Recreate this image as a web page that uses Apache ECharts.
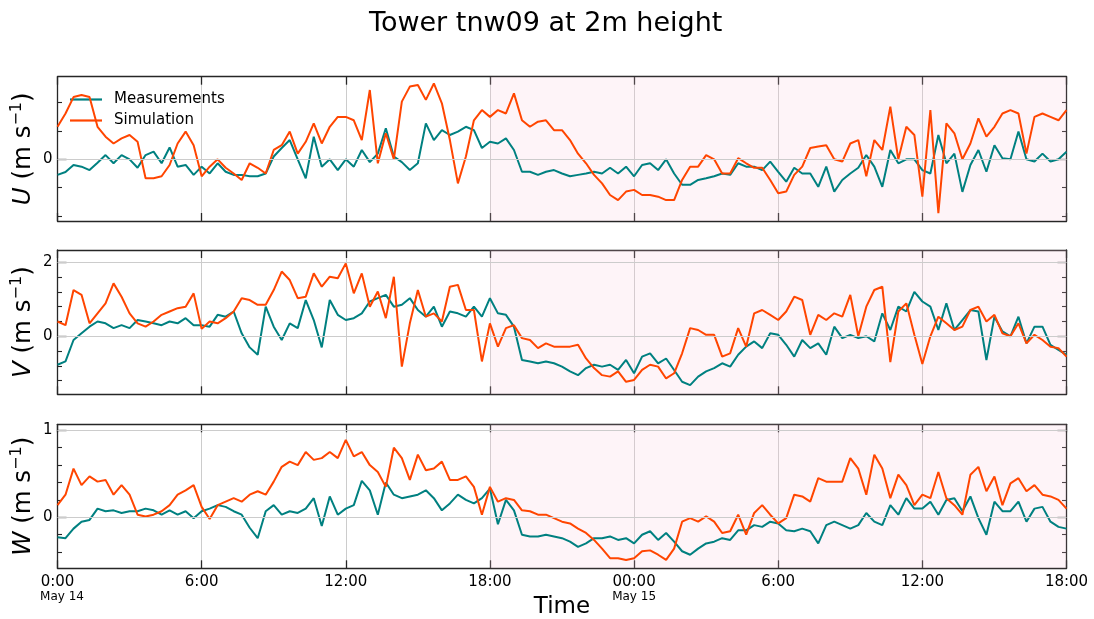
<!DOCTYPE html>
<html><head><meta charset="utf-8">
<script src="https://cdn.jsdelivr.net/npm/echarts@6/dist/echarts.min.js"></script>
<style>html,body{margin:0;padding:0;background:#fff}#c{width:1094px;height:619px}</style>
</head><body><div id="c"></div>
<script>
// sampling step of the series (hours); x runs from 0:00 May 14 to 18:00 May 15
const STEP_HOURS = 1 / 3;
const xTickHours = [0, 6, 12, 18, 24, 30, 36, 42];
const dayLabels = { 0: 'May 14', 24: 'May 15' };
const titleText = 'Tower tnw09 at 2m height';
const seriesNames = ['Measurements', 'Simulation'];
const shadeFrom = 18, shadeTo = 42;

const U_meas = [-0.55,-0.45,-0.2,-0.26,-0.38,-0.12,0.15,-0.14,0.15,0,-0.3,0.15,0.27,-0.14,0.42,-0.26,-0.2,-0.55,-0.26,-0.5,-0.14,-0.44,-0.55,-0.55,-0.6,-0.6,-0.5,0.1,0.4,0.68,0,-0.67,0.8,-0.26,0,-0.38,
 0,-0.26,0.33,-0.1,0.2,1.1,0.1,-0.1,-0.38,-0.14,1.27,0.68,1.03,0.86,0.98,1.15,1.03,0.4,0.62,0.56,0.74,0.33,-0.44,-0.44,-0.55,-0.44,-0.38,-0.5,-0.6,-0.55,-0.5,-0.44,-0.5,-0.3,-0.5,-0.26,-0.6,-0.2,-0.14,-0.38,0,-0.5,-0.9,-0.9,-0.73,
 -0.67,-0.6,-0.5,-0.55,-0.14,-0.26,-0.26,-0.38,-0.08,-0.44,-0.79,-0.3,-0.5,-0.5,-0.97,-0.26,-1.14,-0.73,-0.5,-0.3,0.15,-0.26,-0.97,0.33,-0.14,0,0,-0.38,-0.5,0.86,-0.14,0.2,-1.15,-0.2,0.33,-0.44,0.5,0.04,0,0.98,0,-0.08,0.2,-0.08,0,0.27];
const U_sim = [1.15,1.62,2.2,2.27,2.2,1.15,0.8,0.56,0.74,0.86,0.62,-0.67,-0.67,-0.6,-0.2,0.56,0.98,0.5,-0.6,-0.26,0,-0.3,-0.5,-0.73,-0.14,-0.3,-0.5,0.33,0.5,0.98,0.2,0.62,1.27,0.56,1.15,1.5,
 1.5,1.38,0.68,2.45,-0.14,0.92,0,2.04,2.57,2.63,2.1,2.68,1.98,0.68,-0.85,0.1,1.38,1.74,1.5,1.74,1.62,2.33,1.38,1.15,1.33,1.38,1.03,1.03,0.68,0.2,-0.14,-0.55,-0.85,-1.26,-1.44,-1.14,-1.08,-1.26,-1.26,-1.32,-1.44,-1.44,-0.73,-0.26,-0.26,
 0.15,0,-0.5,-0.5,0.04,-0.14,-0.3,-0.3,-0.73,-1.2,-1.14,-0.55,-0.26,0.4,0.45,0.5,0,-0.08,0.56,0.68,-0.6,0.68,0.33,1.86,0,1.15,0.86,-1.32,1.74,-1.9,1.27,0.92,0,0.56,1.45,0.8,1.15,1.62,1.74,1.62,0.2,1.5,1.62,1.5,1.38,1.74];
const V_meas = [-0.77,-0.68,-0.1,0.08,0.26,0.4,0.35,0.22,0.3,0.22,0.44,0.4,0.35,0.3,0.4,0.35,0.49,0.3,0.3,0.26,0.58,0.53,0.67,0.08,-0.3,-0.5,0.8,0.26,-0.1,0.35,0.22,0.98,0.44,-0.3,0.98,0.58,
 0.44,0.49,0.62,0.94,1.03,1.12,0.8,0.85,1.03,0.71,0.53,0.8,0.26,0.67,0.62,0.53,0.8,0.53,1.03,0.62,0.58,0.26,-0.64,-0.68,-0.73,-0.68,-0.73,-0.82,-0.95,-1.05,-0.86,-0.77,-0.82,-0.77,-0.91,-0.64,-1.0,-0.55,-0.46,-0.73,-0.6,-0.91,-1.23,-1.32,-1.09,
 -0.95,-0.86,-0.73,-0.82,-0.5,-0.28,-0.14,-0.32,0.08,0.04,-0.23,-0.55,-0.1,-0.32,-0.19,-0.5,0.26,-0.05,0.04,-0.05,0,-0.14,0.62,0.17,0.8,0.67,1.2,0.94,0.8,0.17,0.89,0.17,0.44,0.71,0.67,-0.64,0.53,0.13,0,0.53,-0.19,0.26,0.26,-0.23,-0.37,-0.5];
const V_sim = [0.4,0.3,1.25,1.12,0.35,0.62,0.89,1.43,1.07,0.62,0.35,0.26,0.4,0.58,0.67,0.76,0.8,1.16,0.2,0.4,0.35,0.49,0.67,1.03,0.98,0.85,0.85,1.25,1.75,1.52,1.03,1.07,1.7,1.34,1.61,1.57,
 1.97,1.16,1.7,0.8,1.21,0.49,1.61,-0.82,0.35,1.25,0.53,0.62,0.4,1.34,1.39,0.71,0.71,-0.68,0.35,-0.28,0.22,0.3,-0.05,-0.1,-0.32,-0.19,-0.28,-0.28,-0.28,-0.23,-0.6,-0.86,-1.05,-1.09,-0.95,-1.23,-1.18,-0.91,-0.77,-0.82,-1.14,-1.0,-0.46,0.22,0.17,
 0.04,0.04,-0.55,-0.46,0.22,-0.28,0.62,0.71,0.58,0.44,0.67,1.07,0.98,0.04,0.58,0.44,0.62,0.53,1.12,0,0.8,1.25,1.34,-0.7,0.67,0.89,0.04,-0.75,0,0.53,0.35,0.17,0.26,0.71,0.8,0.4,0.58,0.08,0,0.35,-0.19,0.04,-0.1,-0.28,-0.32,-0.55];
const W_meas = [-0.23,-0.24,-0.13,-0.05,-0.03,0.1,0.07,0.08,0.05,0.07,0.07,0.1,0.08,0.03,0.08,0.03,0.07,-0.01,0.07,0.1,0.14,0.12,0.07,0.03,-0.12,-0.24,0.07,0.14,0.03,0.07,0.05,0.1,0.22,-0.1,0.24,0.03,
 0.1,0.14,0.42,0.31,0.03,0.4,0.26,0.22,0.24,0.26,0.31,0.22,0.08,0.16,0.26,0.2,0.16,0.22,0.33,-0.08,0.2,0.08,-0.2,-0.22,-0.22,-0.2,-0.22,-0.24,-0.28,-0.34,-0.3,-0.24,-0.24,-0.22,-0.26,-0.24,-0.3,-0.2,-0.16,-0.26,-0.18,-0.28,-0.39,-0.43,-0.36,
 -0.3,-0.28,-0.24,-0.26,-0.15,-0.15,-0.09,-0.11,-0.05,-0.07,-0.15,-0.16,-0.13,-0.16,-0.3,-0.09,-0.05,-0.09,-0.13,-0.09,0.05,-0.05,-0.09,0.14,0.03,0.22,0.1,0.1,0.18,0.03,0.2,0.22,0.07,0.24,-0.01,-0.2,0.18,0.07,0.07,0.18,-0.05,0.1,0.12,-0.05,-0.11,-0.13];
const W_sim = [0.14,0.26,0.56,0.37,0.47,0.41,0.43,0.26,0.37,0.26,0.03,0.01,0.03,0.07,0.14,0.26,0.31,0.37,0.12,-0.02,0.14,0.18,0.22,0.18,0.26,0.3,0.26,0.41,0.58,0.64,0.6,0.75,0.66,0.68,0.75,0.68,
 0.89,0.7,0.75,0.6,0.52,0.35,0.8,0.68,0.43,0.72,0.54,0.56,0.64,0.43,0.43,0.47,0.35,0.03,0.35,0.18,0.22,0.2,0.08,0.07,0.03,0.03,-0.01,-0.05,-0.07,-0.13,-0.18,-0.26,-0.36,-0.47,-0.47,-0.49,-0.47,-0.39,-0.38,-0.43,-0.49,-0.36,-0.05,-0.01,-0.05,
 0.01,-0.05,-0.18,-0.16,0.03,-0.2,0.05,0.14,0.03,-0.07,-0.01,0.26,0.24,0.18,0.45,0.41,0.41,0.41,0.68,0.56,0.26,0.72,0.56,0.22,0.49,0.37,0.14,0.26,0.22,0.52,0.22,0.14,0.03,0.49,0.58,0.3,0.47,0.14,0.39,0.45,0.3,0.37,0.26,0.24,0.2,0.1];

// panel definitions: axis extents and tick values
const panels = [
  { name: 'U', meas: U_meas, sim: U_sim, min: -2.18, max: 2.92, major: [0], minor: [-2, -1, 1, 2] },
  { name: 'V', meas: V_meas, sim: V_sim, min: -1.568, max: 2.332, major: [0, 2], minor: [-1.2, -0.8, -0.4, 0.4, 0.8, 1.2, 1.6] },
  { name: 'W', meas: W_meas, sim: W_sim, min: -0.586, max: 1.069, major: [0, 1], minor: [-0.4, -0.2, 0.2, 0.4, 0.6, 0.8] }
];

const FONT = 'DejaVu Sans';
const FRAME = '#262626';
const GRIDC = '#cccccc';
const TEAL = '#008080', ORANGE = '#ff4500';
const gridBoxes = [
  { top: 76.7, height: 144.3 },
  { top: 250, height: 144.3 },
  { top: 424.3, height: 144 }
];

function fmtX(v) {
  const h = v % 24;
  let s = v === 0 ? '0:00' : (h === 0 ? '00:00' : h + ':00');
  if (dayLabels[v] !== undefined) s += '\n{' + (v === 0 ? 'd0' : 'd1') + '|' + dayLabels[v] + '}';
  return s;
}

const grid = [], xAxis = [], yAxis = [], series = [];
panels.forEach((p, g) => {
  grid.push({ left: 57.5, width: 1009, top: gridBoxes[g].top, height: gridBoxes[g].height,
    containLabel: false, outerBoundsMode: 'none' });
  const isLast = g === panels.length - 1;
  ['bottom', 'top'].forEach((pos, k) => {
    xAxis.push({
      gridIndex: g, type: 'value', min: 0, max: 42, interval: 6, position: pos,
      axisLine: { show: true, onZero: false, lineStyle: { color: FRAME, width: 1.3 } },
      axisTick: { show: true, inside: true, length: 8, lineStyle: { color: FRAME, width: 1.3 } },
      axisLabel: {
        show: isLast && k === 0, formatter: fmtX, fontFamily: FONT, fontSize: 15, color: '#000', margin: 6, lineHeight: 16,
        rich: { d0: { fontSize: 12, fontFamily: FONT, color: '#000', lineHeight: 14, padding: [0, 0, 0, 9] },
                d1: { fontSize: 12, fontFamily: FONT, color: '#000', lineHeight: 14 } }
      },
      splitLine: { show: k === 0, lineStyle: { color: GRIDC, width: 1 } },
      name: (isLast && k === 0) ? 'Time' : '', nameLocation: 'middle', nameGap: 27, nameMoveOverlap: false,
      nameTextStyle: { fontFamily: FONT, fontSize: 23, color: '#000' }
    });
  });
  const yBase = {
    gridIndex: g, type: 'value', min: p.min, max: p.max,
    splitLine: { show: false }
  };
  // left major (with labels and name)
  yAxis.push(Object.assign({}, yBase, {
    position: 'left',
    axisLine: { show: true, onZero: false, lineStyle: { color: FRAME, width: 1.3 } },
    axisTick: { show: true, inside: true, length: 9, customValues: p.major, lineStyle: { color: FRAME, width: 1.3 } },
    axisLabel: { show: true, customValues: p.major, fontFamily: FONT, fontSize: 15, color: '#000', margin: 5 },
    name: '{i|' + p.name + '} (m s{s|\u22121})', nameLocation: 'middle', nameRotate: 90, nameGap: 19, nameMoveOverlap: false,
    nameTextStyle: {
      fontFamily: FONT, fontSize: 24.5, color: '#000',
      rich: {
        i: { fontFamily: FONT, fontSize: 24.5, fontStyle: 'italic', color: '#000', lineHeight: 30 },
        s: { fontFamily: FONT, fontSize: 16, color: '#000', verticalAlign: 'top', lineHeight: 30 }
      }
    }
  }));
  // right major
  yAxis.push(Object.assign({}, yBase, {
    position: 'right',
    axisLine: { show: true, onZero: false, lineStyle: { color: FRAME, width: 1.3 } },
    axisTick: { show: true, inside: true, length: 9, customValues: p.major, lineStyle: { color: FRAME, width: 1.3 } },
    axisLabel: { show: false }
  }));
  // minor ticks on both sides
  ['left', 'right'].forEach(pos => {
    yAxis.push(Object.assign({}, yBase, {
      position: pos,
      axisLine: { show: false, onZero: false },
      axisTick: { show: true, inside: true, length: 4.5, customValues: p.minor, lineStyle: { color: FRAME, width: 1.1 } },
      axisLabel: { show: false }
    }));
  });
  const xi = 2 * g, yi = 4 * g;
  // background: shaded period and horizontal grid lines
  series.push({
    type: 'line', xAxisIndex: xi, yAxisIndex: yi, silent: true, z: 1,
    data: [[0, p.major[0]], [42, p.major[0]]], symbol: 'none',
    lineStyle: { opacity: 0 },
    markArea: { silent: true, itemStyle: { color: 'rgba(250,200,220,0.2)' }, data: [[{ xAxis: shadeFrom }, { xAxis: shadeTo }]] },
    markLine: { silent: true, symbol: 'none', label: { show: false }, lineStyle: { color: GRIDC, width: 1, type: 'solid' },
      data: p.major.map(v => ({ yAxis: v })) }
  });
  series.push({
    name: seriesNames[0], type: 'line', xAxisIndex: xi, yAxisIndex: yi, z: 3,
    data: p.meas.map((v, i) => [i * STEP_HOURS, v]), symbol: 'none', showSymbol: false,
    lineStyle: { color: TEAL, width: 2 }, itemStyle: { color: TEAL }
  });
  series.push({
    name: seriesNames[1], type: 'line', xAxisIndex: xi, yAxisIndex: yi, z: 4,
    data: p.sim.map((v, i) => [i * STEP_HOURS, v]), symbol: 'none', showSymbol: false,
    lineStyle: { color: ORANGE, width: 2 }, itemStyle: { color: ORANGE }
  });
});

const chart = echarts.init(document.getElementById('c'), null, { renderer: 'canvas' });
chart.setOption({
  animation: false,
  backgroundColor: '#fff',
  title: { text: titleText, left: 364, top: 5, textStyle: { fontFamily: FONT, fontSize: 27, fontWeight: 'normal', color: '#000' } },
  legend: {
    data: seriesNames, orient: 'vertical', left: 65, top: 87, icon: 'rect', itemWidth: 32, itemHeight: 2.2, itemGap: 6,
    textStyle: { fontFamily: FONT, fontSize: 15, color: '#000', padding: [0, 0, 0, 7] }
  },
  grid, xAxis, yAxis, series
});
</script></body></html>
